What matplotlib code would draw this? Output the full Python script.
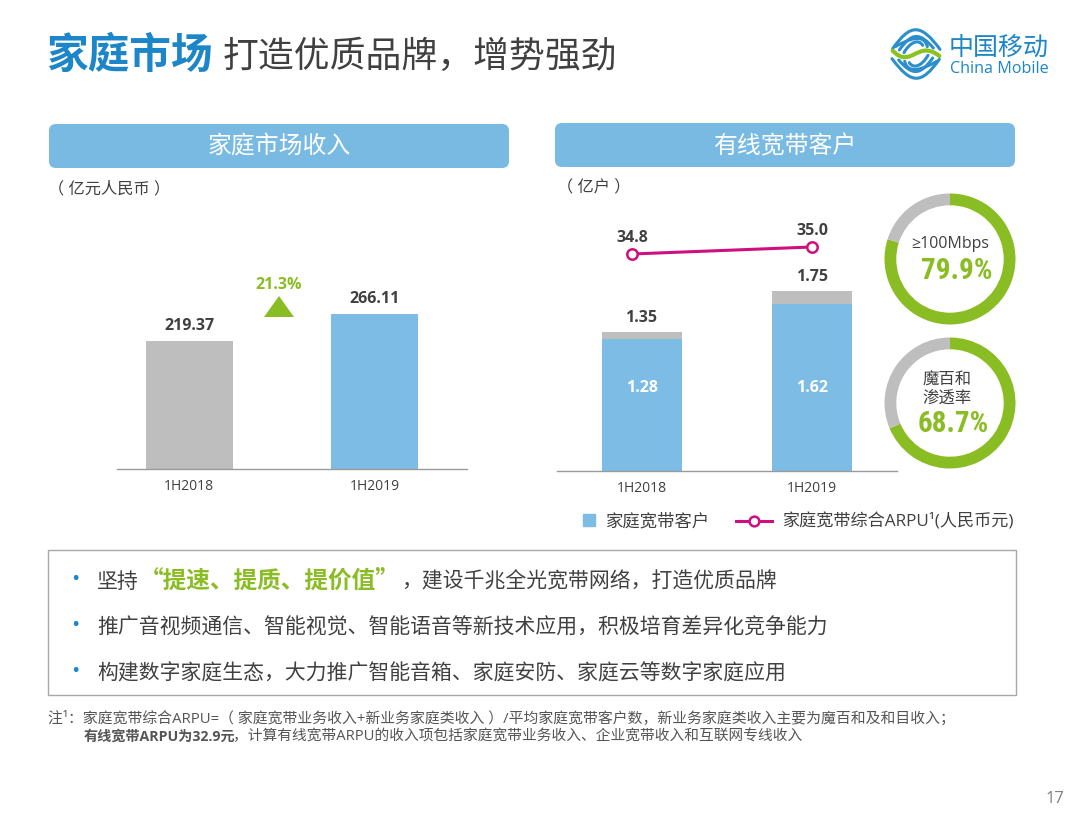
import matplotlib

matplotlib.use("Agg")
import matplotlib.pyplot as plt
from matplotlib.lines import Line2D
from matplotlib.patches import FancyBboxPatch, PathPatch, Polygon, Rectangle
from matplotlib.path import Path as MplPath

W, H = 1080, 815

periods = ["1H2018", "1H2019"]
revenue = [219.37, 266.11]
broadband_total = [1.35, 1.75]
broadband_wired = [1.28, 1.62]
arpu = [34.8, 35.0]
donut_100mbps = [79.9, 20.1]
donut_magic = [68.7, 31.3]

BLUE = "#7CBCE5"
HEADER = "#79BAE3"
TITLE_BLUE = "#1C86C8"
GREY = "#BEBEBE"
GREEN = "#8ABD24"
MAGENTA = "#CF0F7E"
TEXT = "#404040"
AXIS = "#9A9A9A"
NOTE = "#555555"

CJK = ["Open Sans", "Noto Sans CJK SC", "DejaVu Sans"]
CJK_FIRST = ["Noto Sans CJK SC", "DejaVu Sans"]
NARROW = ["Roboto Condensed", "Liberation Sans Narrow", "Liberation Sans", "DejaVu Sans"]
plt.rcParams["font.family"] = CJK


def px_axes(fig, x0, y0, x1, y1):
    # rect given in image pixels, y downwards
    ax = fig.add_axes([x0 / W, 1 - y1 / H, (x1 - x0) / W, (y1 - y0) / H])
    ax.patch.set_alpha(0)
    return ax


def style_bar_axes(ax, c0, c1, x0, x1):
    step = c1 - c0
    ax.set_xlim((x0 - c0) / step, (x1 - c0) / step)
    ax.set_xticks([0, 1], periods)
    ax.tick_params(axis="x", length=0, pad=7, labelsize=10, labelcolor=TEXT)
    ax.set_yticks([])
    for side in ["top", "left", "right"]:
        ax.spines[side].set_visible(False)
    ax.spines["bottom"].set_color(AXIS)
    ax.spines["bottom"].set_linewidth(1.0)


def draw_donut(fig, cx, cy, r, values):
    ax = px_axes(fig, cx - r, cy - r, cx + r, cy + r)
    ax.pie(values, colors=[GREEN, GREY], startangle=90, counterclock=False,
           radius=1.0, wedgeprops={"width": 0.18, "linewidth": 0})
    ax.set_xlim(-1, 1)
    ax.set_ylim(-1, 1)
    return ax


def draw_logo(bg):
    # rough ribbon mark of the logo, points in a 168 px box
    bands = [
        [(14, 68), (68, -8), (98, -8), (156, 70)],
        [(34, 72), (72, 18), (96, 20), (136, 66)],
        [(22, 62), (60, 40), (108, 20), (118, 62)],
        [(48, 80), (66, 48), (92, 38), (104, 58)],
    ]
    codes = [MplPath.MOVETO, MplPath.CURVE4, MplPath.CURVE4, MplPath.CURVE4]

    def to_px(pts):
        return [(888 + x / 3, 26 + y / 3) for x, y in pts]

    for pts in bands:
        flipped = [(168 - x, 168 - y) for x, y in pts]
        for p in (pts, flipped):
            bg.add_patch(PathPatch(MplPath(to_px(p), codes), fc="none", ec="#2B8FCB", lw=2.2, capstyle="round"))
    green = [(14, 74), (70, 132), (88, 38), (154, 90)]
    bg.add_patch(PathPatch(MplPath(to_px(green), codes), fc="none", ec="#8CC220", lw=3.0, capstyle="round"))


fig = plt.figure(figsize=(W / 100, H / 100), dpi=100, facecolor="white")

bg = px_axes(fig, 0, 0, W, H)
bg.set_xlim(0, W)
bg.set_ylim(H, 0)
bg.axis("off")

# title
bg.text(46, 57, "家庭市场", fontsize=30, fontweight="bold", color=TITLE_BLUE, va="center")
bg.text(223, 58, "打造优质品牌，增势强劲", fontsize=25.8, color=TEXT, va="center")

draw_logo(bg)
bg.text(949, 48, "中国移动", fontsize=18, color=TITLE_BLUE, va="center")
bg.text(950, 69, "China Mobile", fontsize=11.6, color=TITLE_BLUE, va="center",
        family=["Open Sans", "DejaVu Sans"])

# header bars
for x0, y0, x1, y1, label in [(49, 124, 509, 168, "家庭市场收入"), (555, 123, 1015, 167, "有线宽带客户")]:
    bg.add_patch(FancyBboxPatch((x0 + 7, y0 + 7), x1 - x0 - 14, y1 - y0 - 14,
                                boxstyle="round,pad=7,rounding_size=7", fc=HEADER, ec="none"))
    bg.text((x0 + x1) / 2, (y0 + y1) / 2 + 2, label, fontsize=17.2, color="white", ha="center", va="center")

bg.text(48, 189, "（ 亿元人民币 ）", fontsize=11.7, color=TEXT, va="center")
bg.text(557, 188, "（ 亿户 ）", fontsize=11.7, color=TEXT, va="center")

# left chart
ax_left = px_axes(fig, 117, 200, 467, 469)
style_bar_axes(ax_left, 189, 374.5, 117, 467)
ax_left.bar([0, 1], revenue, width=87 / 185.5, color=[GREY, BLUE])
ax_left.set_ylim(0, 269 / 0.5834)
for i, v in enumerate(revenue):
    ax_left.annotate(f"{v:.2f}", (i, v), xytext=(0, 5), textcoords="offset points", ha="center",
                     va="bottom", fontsize=11.5, fontweight="bold", color=TEXT)

bg.text(279, 285, "21.3%", fontsize=11.5, fontweight="bold", color=GREEN, ha="center", va="center")
bg.add_patch(Polygon([(264, 317), (294, 317), (279, 296)], closed=True, fc=GREEN, ec="none"))

# right chart
ax_right = px_axes(fig, 557, 200, 897, 471)
style_bar_axes(ax_right, 641.5, 812, 557, 897)
other = [t - w for t, w in zip(broadband_total, broadband_wired)]
ax_right.bar([0, 1], broadband_wired, width=80 / 170.5, color=BLUE)
ax_right.bar([0, 1], other, bottom=broadband_wired, width=80 / 170.5, color=GREY)
ax_right.set_ylim(0, 271 / 103)
for i, (t, w) in enumerate(zip(broadband_total, broadband_wired)):
    ax_right.annotate(f"{t:.2f}", (i, t), xytext=(0, 4), textcoords="offset points", ha="center",
                      va="bottom", fontsize=11.5, fontweight="bold", color=TEXT)
    # both inner labels sit at the same height in the source
    ax_right.annotate(f"{w:.2f}", (i, 0.805), ha="center", va="center", fontsize=11.5,
                      fontweight="bold", color="white")

ax_line = px_axes(fig, 612, 210, 832, 280)
ax_line.axis("off")
ax_line.set_xlim(-20 / 180, 1 + 20 / 180)
ax_line.set_ylim(34.8 - 26 / 35, 34.8 + 44 / 35)
ax_line.plot([0, 1], arpu, color=MAGENTA, lw=2.2, marker="o", ms=7.5, mfc="white", mec=MAGENTA, mew=1.8)
for i, v in enumerate(arpu):
    ax_line.annotate(f"{v:.1f}", (i, v), xytext=(0, 5.5), textcoords="offset points", ha="center",
                     va="bottom", fontsize=11.5, fontweight="bold", color=TEXT)

# donuts
draw_donut(fig, 950, 259, 65.5, donut_100mbps)
draw_donut(fig, 950, 403, 65.5, donut_magic)
bg.text(950, 244, "≥100Mbps", fontsize=11.5, color=TEXT, ha="center", va="center", zorder=5)
bg.text(957, 271, "79.9%", fontsize=21, fontweight="bold", color=GREEN, ha="center", va="center",
        family=NARROW, zorder=5)
bg.text(947, 390, "魔百和\n渗透率", fontsize=11.8, color=TEXT, ha="center", va="center", linespacing=1.3, zorder=5)
bg.text(953, 424, "68.7%", fontsize=21, fontweight="bold", color=GREEN, ha="center", va="center",
        family=NARROW, zorder=5)

# legend, one per handle since their key widths differ
bar_key = Line2D([], [], ls="none", marker="s", ms=8.5, color=BLUE, label="家庭宽带客户")
line_key = Line2D([], [], color=MAGENTA, lw=2.2, marker="o", ms=7, mfc="white", mec=MAGENTA, mew=1.8,
                  label="家庭宽带综合ARPU¹(人民币元)")
fig.legend(handles=[bar_key], loc="center left", bbox_to_anchor=(583 / W, 1 - 522 / H), frameon=False,
           fontsize=12.5, labelcolor=TEXT, handlelength=0.7, handletextpad=0.6, borderpad=0, borderaxespad=0)
fig.legend(handles=[line_key], loc="center left", bbox_to_anchor=(736 / W, 1 - 522 / H), frameon=False,
           fontsize=12.3, labelcolor=TEXT, handlelength=2.1, handletextpad=0.57, borderpad=0, borderaxespad=0)

# message box
bg.add_patch(Rectangle((48, 550), 968, 145, fc="white", ec="#A8A8A8", lw=1.0))
for y in [580, 626, 672]:
    bg.text(75, y, "•", fontsize=16, color=TITLE_BLUE, ha="center", va="center")
bg.text(97, 582, "坚持", fontsize=15, color=TEXT, va="center")
bg.text(140, 581, "“提速、提质、提价值”", fontsize=17, fontweight="bold", color=GREEN, va="center", family=CJK_FIRST)
bg.text(401, 582, "，建设千兆全光宽带网络，打造优质品牌", fontsize=15, color=TEXT, va="center")
bg.text(97, 628, "推广音视频通信、智能视觉、智能语音等新技术应用，积极培育差异化竞争能力", fontsize=15, color=TEXT, va="center")
bg.text(97, 674, "构建数字家庭生态，大力推广智能音箱、家庭安防、家庭云等数字家庭应用", fontsize=15, color=TEXT, va="center")

# footnote
bg.text(48, 719, "注¹：家庭宽带综合ARPU=（ 家庭宽带业务收入+新业务家庭类收入 ）/平均家庭宽带客户数，新业务家庭类收入主要为魔百和及和目收入；",
        fontsize=10.7, color=NOTE, va="center")
bg.text(84, 737, "有线宽带ARPU为32.9元", fontsize=10.2, fontweight="bold", color=NOTE, va="center")
bg.text(233, 737, "，计算有线宽带ARPU的收入项包括家庭宽带业务收入、企业宽带收入和互联网专线收入",
        fontsize=10.6, color=NOTE, va="center")

bg.text(1055, 799, "17", fontsize=12, color="#7F7F7F", ha="center", va="center")

fig.savefig("out.png", dpi=100, facecolor="white")
